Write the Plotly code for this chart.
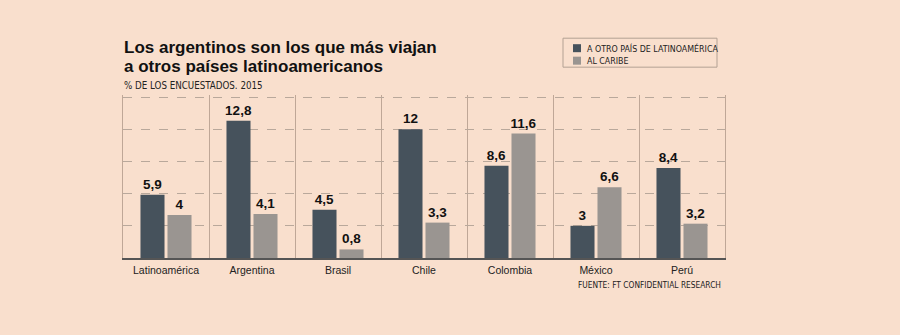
import plotly.graph_objects as go

categories = ["Latinoamérica", "Argentina", "Brasil", "Chile", "Colombia", "México", "Perú"]
otro_pais = [5.9, 12.8, 4.5, 12, 8.6, 3, 8.4]
caribe = [4, 4.1, 0.8, 3.3, 11.6, 6.6, 3.2]
series_names = ["A OTRO PAÍS DE LATINOAMÉRICA", "AL CARIBE"]
title_lines = ["Los argentinos son los que más viajan", "a otros países latinoamericanos"]
subtitle = "% DE LOS ENCUESTADOS. 2015"
source = "FUENTE: FT CONFIDENTIAL RESEARCH"

BG = "#f9dfcd"
DARK = "#46525c"
GREY = "#9a9591"
W, H = 900, 335
YMAX = 15.2
L, R, B = 123, 175, 77
T = 258 - 161 * YMAX / 15
PW, PH = W - L - R, H - T - B


def px(x):
    return (x - L) / PW


def py(y):
    return (H - B - y) / PH


def fmt(v):
    return f"{v:g}".replace(".", ",")


fig = go.Figure()
for name, vals, col in [(series_names[0], otro_pais, DARK), (series_names[1], caribe, GREY)]:
    fig.add_trace(go.Bar(
        x=categories, y=vals, name=name, marker=dict(color=col, line=dict(width=0)),
        text=[fmt(v) for v in vals], textposition="outside", cliponaxis=False,
        constraintext="none",
        textfont=dict(family="Liberation Sans", size=13.5, color="#111111"),
        texttemplate="<b>%{text}</b>", showlegend=False,
    ))

FONT = "Liberation Sans"
NARROW = "DejaVu Sans Condensed, sans-serif"

annotations = [
    dict(text=f"<b>{title_lines[0]}</b>", x=px(122), y=py(47.5), xanchor="left", yanchor="middle",
         font=dict(family=FONT, size=17, color="#111111")),
    dict(text=f"<b>{title_lines[1]}</b>", x=px(122), y=py(66), xanchor="left", yanchor="middle",
         font=dict(family=FONT, size=17, color="#111111")),
    dict(text=subtitle, x=px(122), y=py(85), xanchor="left", yanchor="middle",
         font=dict(family=NARROW, size=9.7, color="#222222")),
    dict(text=source, x=px(723), y=py(285), xanchor="right", yanchor="middle",
         font=dict(family=NARROW, size=8.3, color="#222222")),
]
shapes = [
    dict(type="rect", xref="paper", yref="paper", x0=px(563), x1=px(717), y0=py(38), y1=py(67),
         line=dict(color="#b3a193", width=1), fillcolor="rgba(0,0,0,0)"),
]
for i, (name, col) in enumerate([(series_names[0], DARK), (series_names[1], GREY)]):
    cy = 48 + i * 12.5
    shapes.append(dict(type="rect", xref="paper", yref="paper", x0=px(573), x1=px(581),
                       y0=py(cy + 4), y1=py(cy - 4), line=dict(width=0), fillcolor=col))
    annotations.append(dict(text=name, x=px(585), y=py(cy), xanchor="left", yanchor="middle",
                            font=dict(family=NARROW, size=8.8, color="#222222")))
for a in annotations:
    a.update(xref="paper", yref="paper", showarrow=False)

fig.update_layout(
    width=W, height=H, paper_bgcolor=BG, plot_bgcolor=BG,
    margin=dict(l=L, r=R, t=T, b=B, autoexpand=False),
    barmode="group", bargap=0.372, bargroupgap=0.11,
    annotations=annotations, shapes=shapes, showlegend=False,
    font=dict(family=FONT),
)
fig.update_xaxes(
    type="category", tickson="boundaries", showgrid=True, gridcolor="#bfa797", gridwidth=1,
    showline=True, linecolor="#555555", linewidth=1.5, ticks="", ticklabelstandoff=2,
    tickfont=dict(family=FONT, size=10.5, color="#222222"), range=[-0.5, 6.5],
)
fig.update_yaxes(
    range=[0, YMAX], dtick=3, showgrid=True, gridcolor="#b9a89b", griddash="dash", gridwidth=1,
    showticklabels=False, zeroline=False, showline=True, mirror=True, linecolor="#bfa797", linewidth=1,
)
fig.write_html("out.html")
